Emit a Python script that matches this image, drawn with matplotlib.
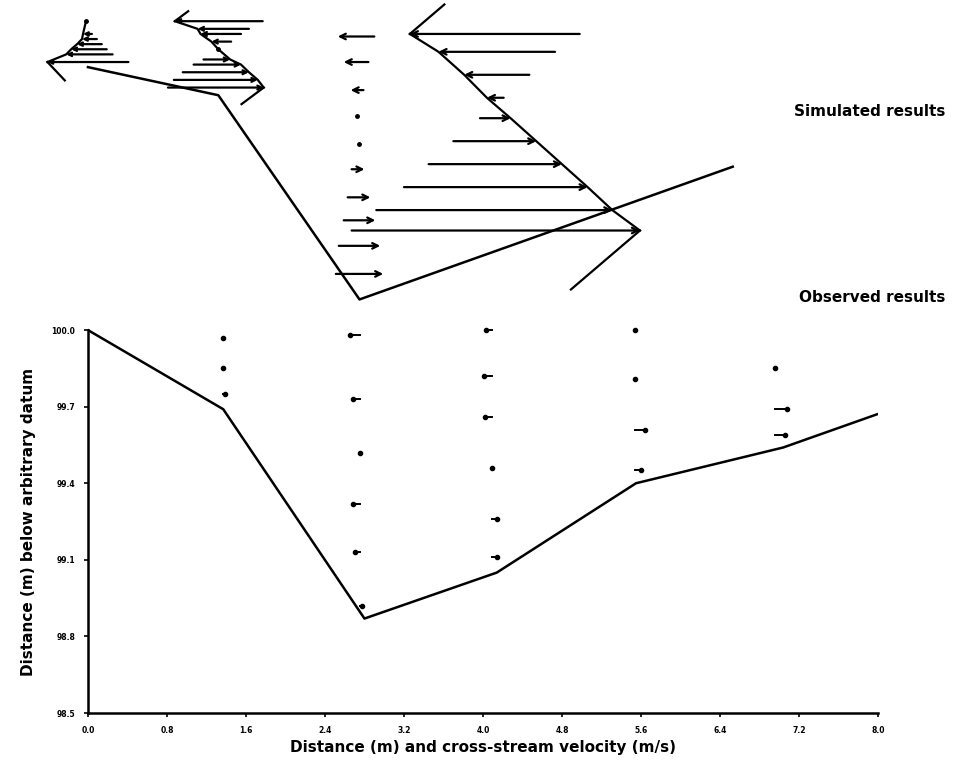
import numpy as np
import matplotlib.pyplot as plt

# --- observed bed profile (lower panel) ---
bed_x = [0.0, 1.37, 2.80, 4.14, 5.55, 7.04, 7.99]
bed_z = [100.0, 99.69, 98.87, 99.05, 99.40, 99.54, 99.67]

# observed cross-stream velocity verticals
obs_x = [1.37, 2.75, 4.09, 5.54, 6.96]
obs_z = [
    [99.97, 99.85, 99.75],
    [99.98, 99.73, 99.52, 99.32, 99.13, 98.92],
    [100.0, 99.82, 99.66, 99.46, 99.26, 99.11],
    [100.0, 99.81, 99.61, 99.45],
    [99.85, 99.69, 99.59],
]
obs_u = [
    [0.0, 0.0, 0.02],
    [-0.10, -0.07, 0.0, -0.07, -0.05, 0.03],
    [-0.06, -0.08, -0.07, 0.0, 0.05, 0.05],
    [0.0, 0.0, 0.10, 0.06],
    [0.0, 0.12, 0.10],
]

# --- simulated results, oblique view drawn above the observed panel ---
sim_bed_x = [0.0, 1.32, 2.75, 6.53]
sim_bed_z = [101.03, 100.92, 100.12, 100.64]

# each vertical: row level, arrow tail, velocity
sim1_z = [101.21, 101.16, 101.14, 101.12, 101.10, 101.08, 101.05]
sim1_x = [-0.02, 0.04, 0.09, 0.14, 0.19, 0.25, 0.41]
sim1_u = [0.0, -0.09, -0.15, -0.25, -0.36, -0.47, -0.82]

sim2_z = [101.21, 101.18, 101.16, 101.13, 101.10, 101.06, 101.04, 101.01, 100.98, 100.95]
sim2_x = [1.77, 1.63, 1.55, 1.45, 1.32, 1.17, 1.07, 0.96, 0.87, 0.81]
sim2_u = [-0.89, -0.52, -0.41, -0.20, 0.0, 0.27, 0.48, 0.67, 0.85, 0.97]

sim3_z = [101.15, 101.05, 100.94, 100.84, 100.73, 100.63, 100.52, 100.43, 100.33, 100.22]
sim3_x = [2.90, 2.84, 2.79, 2.72, 2.74, 2.67, 2.63, 2.59, 2.54, 2.51]
sim3_u = [-0.37, -0.25, -0.13, 0.0, 0.0, 0.13, 0.23, 0.32, 0.42, 0.48]

sim4_z = [101.16, 101.09, 101.00, 100.91, 100.83, 100.74, 100.65, 100.56, 100.47, 100.39]
sim4_x = [4.98, 4.73, 4.47, 4.21, 3.97, 3.70, 3.45, 3.20, 2.92, 2.67]
sim4_u = [-1.72, -1.18, -0.66, -0.17, 0.31, 0.84, 1.35, 1.86, 2.39, 2.92]

x_ticks = np.arange(0, 8.01, 0.8)
y_ticks = [98.5, 98.8, 99.1, 99.4, 99.7, 100.0]


def draw_vertical(ax, xs, zs, us, envelope=False, top_barb=0.0, bot_barb=0.0, head=9):
    for x0, z, u in zip(xs, zs, us):
        if abs(u) < 0.01:
            ax.plot(x0, z, "o", ms=2.5, color="k", clip_on=False)
        else:
            ax.annotate("", xy=(x0 + u, z), xytext=(x0, z), annotation_clip=False,
                        arrowprops=dict(arrowstyle="->", lw=1.6, color="k",
                                        mutation_scale=head, shrinkA=0, shrinkB=0))
    if envelope:
        tx = np.array(xs) + np.array(us)
        tz = np.array(zs)
        ax.plot(tx, tz, "-", color="k", lw=1.6, clip_on=False)
        d = np.array([tx[-1] - tx[0], tz[-1] - tz[0]])
        if top_barb:
            ax.plot([tx[0], tx[0] + d[0] * top_barb], [tz[0], tz[0] - d[1] * top_barb],
                    "-", color="k", lw=1.6, clip_on=False)
        if bot_barb:
            ax.plot([tx[-1], tx[-1] - d[0] * bot_barb], [tz[-1], tz[-1] + d[1] * bot_barb],
                    "-", color="k", lw=1.6, clip_on=False)


fig = plt.figure(figsize=(9.55, 7.62), dpi=100)
ax = fig.add_axes([0.0921, 0.0643, 0.8272, 0.9213])
ax.set_xlim(0, 8)
ax.set_ylim(98.5, 101.25)

# observed panel
ax.plot(bed_x, bed_z, "-", color="k", lw=1.8)
for x0, zs, us in zip(obs_x, obs_z, obs_u):
    for z, u in zip(zs, us):
        ax.plot([x0, x0 + u], [z, z], "-", color="k", lw=1.4)
        ax.plot(x0 + u, z, "o", ms=3, color="k")

# simulated panel
ax.plot(sim_bed_x, sim_bed_z, "-", color="k", lw=1.8, clip_on=False)
draw_vertical(ax, sim1_x, sim1_z, sim1_u, envelope=True, bot_barb=0.45, head=6)
draw_vertical(ax, sim2_x, sim2_z, sim2_u, envelope=True, top_barb=0.15, bot_barb=0.25, head=7)
draw_vertical(ax, sim3_x, sim3_z, sim3_u, head=10)
draw_vertical(ax, sim4_x, sim4_z, sim4_u, envelope=True, top_barb=0.15, bot_barb=0.3, head=10)

for s in ["top", "right"]:
    ax.spines[s].set_visible(False)
ax.spines["left"].set_bounds(98.5, 100.0)
ax.spines["left"].set_linewidth(1.8)
ax.spines["bottom"].set_linewidth(1.8)

ax.set_xticks(x_ticks)
ax.set_xticklabels([f"{v:.1f}" for v in x_ticks], fontsize=5.5, fontweight="bold")
ax.set_yticks(y_ticks)
ax.set_yticklabels([f"{v:.1f}" for v in y_ticks], fontsize=5.5, fontweight="bold")
ax.tick_params(length=3, width=1.2, pad=6)

ax.set_xlabel("Distance (m) and cross-stream velocity (m/s)", fontsize=11,
              fontweight="bold", labelpad=4)
ax.set_ylabel("Distance (m) below arbitrary datum", fontsize=11, fontweight="bold")
ax.yaxis.set_label_coords(-0.066, 0.272)

fig.text(0.99, 1 - 111 / 762, "Simulated results", ha="right", va="center",
         fontsize=11, fontweight="bold")
fig.text(0.99, 1 - 298 / 762, "Observed results", ha="right", va="center",
         fontsize=11, fontweight="bold")

fig.savefig("out.png", dpi=100)
